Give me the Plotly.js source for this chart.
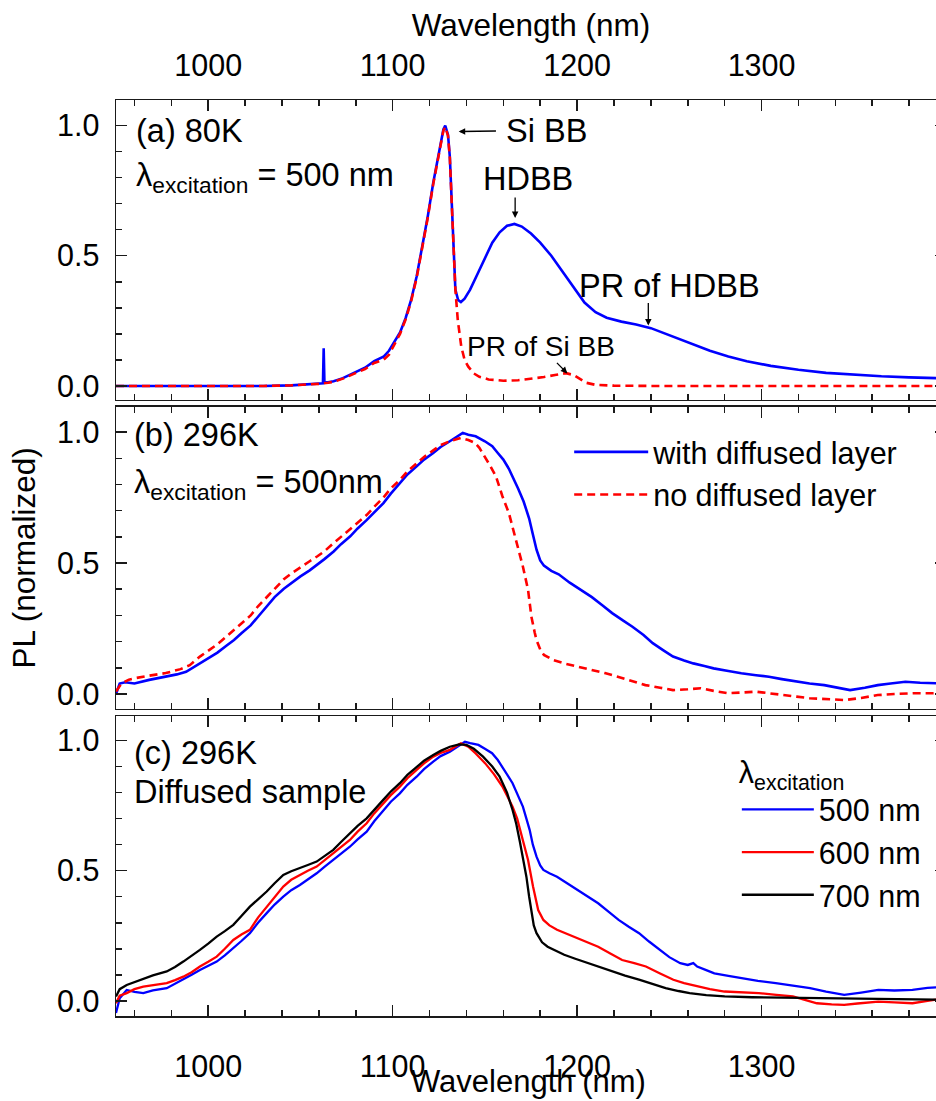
<!DOCTYPE html>
<html>
<head>
<meta charset="utf-8">
<script src="https://cdn.plot.ly/plotly-3.0.1.min.js"></script>
<style>
html, body { margin: 0; padding: 0; overflow: hidden; background: #fff; }
#chart { width: 950px; height: 1101px; }
</style>
</head>
<body>
<div id="chart"></div>
<script>
// ---------- tick labels ----------
const xTickVals = [1000, 1100, 1200, 1300];
const xTickText = ['1000', '1100', '1200', '1300'];
const yTickVals = [0, 0.5, 1.0];
const yTickText = ['0.0', '0.5', '1.0'];

// ---------- panel (a): 80 K, 500 nm excitation ----------
const a_with_x = [950, 970, 990, 1010, 1030, 1045, 1055, 1060, 1062.2, 1062.6, 1063.0, 1065, 1068, 1073, 1079, 1085, 1090, 1095, 1098, 1101, 1104, 1107, 1110, 1113, 1116, 1119, 1122, 1124, 1126, 1127.5, 1128.5, 1130, 1131, 1132, 1133, 1134, 1135.5, 1137, 1139, 1142, 1146, 1150, 1154, 1158, 1162, 1166, 1170, 1175, 1180, 1186, 1192, 1198, 1204, 1210, 1216, 1224, 1232, 1240, 1248, 1256, 1264, 1272, 1282, 1292, 1305, 1320, 1335, 1350, 1365, 1380, 1400];
const a_with_y = [0.0, 0.0, -0.002, 0.0, 0.0, 0.002, 0.005, 0.008, 0.01, 0.145, 0.015, 0.014, 0.018, 0.03, 0.05, 0.07, 0.095, 0.112, 0.135, 0.17, 0.205, 0.26, 0.33, 0.42, 0.53, 0.65, 0.78, 0.86, 0.94, 0.985, 1.0, 0.965, 0.88, 0.72, 0.5, 0.37, 0.33, 0.322, 0.335, 0.37, 0.43, 0.49, 0.55, 0.59, 0.615, 0.622, 0.612, 0.585, 0.55, 0.5, 0.44, 0.38, 0.32, 0.283, 0.262, 0.247, 0.236, 0.222, 0.2, 0.178, 0.156, 0.135, 0.113, 0.095, 0.077, 0.062, 0.05, 0.043, 0.037, 0.033, 0.029];

const a_no_x = [950, 970, 990, 1010, 1030, 1045, 1055, 1060, 1065, 1068, 1073, 1079, 1085, 1090, 1095, 1098, 1101, 1104, 1107, 1110, 1113, 1116, 1119, 1122, 1124, 1126, 1127.5, 1128.5, 1130, 1131, 1132, 1133, 1134, 1135.3, 1137.2, 1139, 1141, 1144, 1147, 1152, 1160, 1168, 1175, 1182, 1188, 1194, 1198, 1201, 1205, 1210, 1220, 1240, 1270, 1300, 1340, 1370, 1400];
const a_no_y = [0.0, 0.0, -0.002, 0.0, 0.0, 0.002, 0.005, 0.008, 0.012, 0.016, 0.028, 0.047, 0.065, 0.088, 0.1, 0.12, 0.16, 0.2, 0.255, 0.325, 0.415, 0.525, 0.645, 0.775, 0.855, 0.935, 0.98, 0.995, 0.96, 0.875, 0.715, 0.5, 0.37, 0.253, 0.151, 0.1, 0.074, 0.048, 0.035, 0.025, 0.02, 0.022, 0.027, 0.034, 0.042, 0.049, 0.042, 0.028, 0.012, 0.004, 0.001, 0.0, 0.0, -0.001, 0.0, -0.001, 0.0];

// ---------- panel (b): 296 K, 500 nm excitation ----------
const b_with_x = [950, 952, 955, 960, 968, 977, 983, 988, 995, 1000, 1005, 1010, 1014, 1018, 1023, 1027, 1032, 1036, 1041, 1045, 1050, 1055, 1059, 1063, 1068, 1072, 1077, 1081, 1086, 1090, 1095, 1099, 1104, 1108, 1113, 1117, 1122, 1126, 1131, 1135, 1138, 1141, 1145, 1150, 1154, 1157, 1160, 1163, 1165, 1168, 1171, 1174, 1176, 1178, 1180, 1182, 1186, 1190, 1196, 1202, 1208, 1214, 1219, 1225, 1230, 1236, 1241, 1247, 1252, 1258, 1263, 1269, 1274, 1282, 1289, 1297, 1304, 1311, 1319, 1326, 1334, 1341, 1348, 1356, 1363, 1370, 1378, 1386, 1393, 1400];
const b_with_y = [0.0, 0.04, 0.045, 0.04, 0.054, 0.066, 0.075, 0.085, 0.115, 0.135, 0.158, 0.185, 0.206, 0.232, 0.262, 0.295, 0.338, 0.37, 0.402, 0.424, 0.449, 0.472, 0.493, 0.515, 0.544, 0.572, 0.602, 0.632, 0.665, 0.695, 0.729, 0.765, 0.806, 0.838, 0.869, 0.895, 0.92, 0.943, 0.965, 0.985, 0.997, 0.99, 0.984, 0.965, 0.946, 0.92, 0.895, 0.86, 0.831, 0.785, 0.735, 0.67, 0.61, 0.551, 0.51, 0.49, 0.47, 0.457, 0.425, 0.397, 0.37, 0.337, 0.309, 0.28, 0.257, 0.225, 0.194, 0.166, 0.143, 0.128, 0.117, 0.107, 0.098, 0.088, 0.079, 0.072, 0.066, 0.057, 0.047, 0.04, 0.034, 0.025, 0.015, 0.024, 0.034, 0.04, 0.047, 0.043, 0.041, 0.04];

const b_no_x = [950, 953, 957, 960, 968, 977, 985, 990, 995.5, 1000, 1005, 1010, 1014, 1018, 1023, 1027, 1032, 1036, 1041, 1045, 1050, 1055, 1059, 1063, 1068, 1072, 1077, 1081, 1086, 1090, 1095, 1099, 1104, 1108, 1113, 1117, 1122, 1126, 1131, 1137, 1141, 1144.6, 1147, 1150, 1153, 1156, 1159.5, 1163, 1167, 1170.6, 1173.4, 1175.2, 1177, 1178, 1180, 1182, 1187, 1193, 1200, 1208, 1215, 1222, 1230, 1237, 1245, 1252, 1260, 1267, 1274, 1282, 1290, 1297, 1304, 1311, 1319, 1326, 1335, 1345, 1354, 1363, 1372, 1382, 1393, 1400];
const b_no_y = [0.01, 0.04, 0.055, 0.06, 0.07, 0.08, 0.095, 0.11, 0.143, 0.165, 0.19, 0.22, 0.245, 0.27, 0.3, 0.335, 0.372, 0.405, 0.438, 0.46, 0.485, 0.507, 0.525, 0.545, 0.576, 0.6, 0.63, 0.655, 0.684, 0.715, 0.75, 0.785, 0.818, 0.85, 0.88, 0.905, 0.93, 0.95, 0.965, 0.978, 0.97, 0.959, 0.94, 0.907, 0.87, 0.831, 0.755, 0.691, 0.589, 0.487, 0.398, 0.296, 0.235, 0.206, 0.17, 0.149, 0.13, 0.117, 0.105, 0.092, 0.08, 0.066, 0.05, 0.034, 0.024, 0.015, 0.018, 0.022, 0.012, 0.003, 0.006, 0.009, 0.003, -0.004, -0.01, -0.016, -0.02, -0.023, -0.015, -0.004, 0.0, 0.003, 0.003, 0.005];

// ---------- panel (c): 296 K, diffused sample, three excitations ----------
const c_500_x = [950, 952, 955.8, 960, 964.8, 970, 977.5, 982, 986.5, 991, 995.5, 1000, 1004.6, 1009, 1013.6, 1018, 1022.6, 1027, 1031.7, 1036, 1040.7, 1045, 1049.7, 1054, 1058.8, 1063, 1067.8, 1072, 1076.8, 1081, 1085.9, 1090, 1094.9, 1099, 1103.9, 1108, 1113, 1117, 1122, 1126, 1131, 1135, 1139.2, 1142, 1146.5, 1150, 1153.9, 1157, 1159.5, 1162, 1165, 1168, 1170.6, 1172.5, 1174.3, 1176, 1178, 1180, 1181.7, 1185, 1189.1, 1195, 1200.3, 1206, 1211.4, 1217, 1222.5, 1228, 1233.6, 1239, 1244.7, 1250, 1255.9, 1260, 1263, 1265.1, 1270, 1274.4, 1282, 1289.2, 1298, 1307.7, 1317, 1326.3, 1335, 1344.8, 1354, 1363.3, 1372, 1381.8, 1390, 1400];
const c_500_y = [-0.046, 0.01, 0.042, 0.035, 0.03, 0.04, 0.049, 0.065, 0.081, 0.1, 0.119, 0.135, 0.151, 0.175, 0.202, 0.23, 0.26, 0.3, 0.337, 0.37, 0.4, 0.425, 0.445, 0.467, 0.49, 0.515, 0.541, 0.565, 0.592, 0.62, 0.65, 0.69, 0.733, 0.765, 0.797, 0.83, 0.861, 0.89, 0.919, 0.94, 0.957, 0.975, 0.995, 0.99, 0.983, 0.968, 0.951, 0.925, 0.899, 0.87, 0.836, 0.79, 0.746, 0.7, 0.656, 0.6, 0.554, 0.52, 0.503, 0.49, 0.477, 0.45, 0.426, 0.4, 0.375, 0.343, 0.311, 0.285, 0.26, 0.228, 0.196, 0.168, 0.145, 0.138, 0.145, 0.132, 0.118, 0.106, 0.096, 0.087, 0.077, 0.068, 0.058, 0.049, 0.036, 0.023, 0.032, 0.042, 0.04, 0.042, 0.05, 0.055];

const c_600_x = [950, 952, 955.8, 960, 964.8, 970, 977.5, 982, 986.5, 991, 995.5, 1000, 1004.6, 1009, 1013.6, 1018, 1022.6, 1027, 1031.7, 1036, 1040.7, 1045, 1049.7, 1054, 1058.8, 1063, 1067.8, 1072, 1076.8, 1081, 1085.9, 1090, 1094.9, 1099, 1103.9, 1108, 1113, 1117, 1122, 1126, 1131, 1137, 1141, 1145, 1150.2, 1155, 1159.5, 1162, 1165, 1167.5, 1169.7, 1171.5, 1173.4, 1176.1, 1178.9, 1181.7, 1185, 1189.1, 1195, 1200.3, 1206, 1211.4, 1218, 1224.4, 1231, 1237.3, 1245, 1252.2, 1258, 1265.1, 1272, 1279.9, 1290, 1298.5, 1308, 1317, 1323, 1330, 1338, 1344.8, 1352, 1363.3, 1372, 1381.8, 1390, 1400];
const c_600_y = [-0.009, 0.02, 0.03, 0.045, 0.055, 0.06, 0.068, 0.08, 0.093, 0.11, 0.132, 0.15, 0.17, 0.2, 0.234, 0.255, 0.273, 0.32, 0.362, 0.4, 0.439, 0.465, 0.484, 0.5, 0.516, 0.54, 0.567, 0.593, 0.618, 0.65, 0.682, 0.72, 0.759, 0.79, 0.823, 0.855, 0.887, 0.912, 0.938, 0.952, 0.964, 0.989, 0.976, 0.95, 0.912, 0.87, 0.823, 0.79, 0.746, 0.7, 0.644, 0.59, 0.541, 0.439, 0.349, 0.311, 0.29, 0.273, 0.256, 0.241, 0.225, 0.208, 0.182, 0.157, 0.145, 0.132, 0.105, 0.081, 0.068, 0.055, 0.045, 0.036, 0.032, 0.03, 0.023, 0.017, 0.005, -0.009, -0.013, -0.015, -0.01, -0.003, -0.006, -0.009, 0.0, 0.01];

const c_700_x = [950, 952, 955.8, 960, 964.8, 970, 977.5, 982, 986.5, 991, 995.5, 1000, 1004.6, 1009, 1013.6, 1018, 1022.6, 1027, 1031.7, 1036, 1040.7, 1045, 1049.7, 1054, 1058.8, 1063, 1067.8, 1072, 1076.8, 1081, 1085.9, 1090, 1094.9, 1099, 1103.9, 1108, 1113, 1117, 1122, 1126, 1131, 1136, 1140, 1144, 1149, 1154, 1158, 1162, 1165, 1167, 1169, 1171, 1172.5, 1174, 1175.2, 1176.5, 1178, 1181, 1184, 1188, 1193, 1199, 1206, 1212, 1219, 1226, 1234, 1241, 1248, 1255, 1261, 1270, 1280, 1295, 1308, 1325, 1345, 1370, 1400];
const c_700_y = [0.017, 0.045, 0.061, 0.072, 0.087, 0.098, 0.113, 0.13, 0.151, 0.172, 0.196, 0.22, 0.247, 0.268, 0.292, 0.326, 0.362, 0.39, 0.42, 0.452, 0.484, 0.498, 0.509, 0.522, 0.535, 0.555, 0.58, 0.61, 0.644, 0.672, 0.701, 0.735, 0.772, 0.804, 0.836, 0.868, 0.899, 0.922, 0.944, 0.96, 0.976, 0.985, 0.983, 0.968, 0.938, 0.9, 0.861, 0.8, 0.733, 0.68, 0.61, 0.53, 0.477, 0.4, 0.337, 0.29, 0.26, 0.225, 0.208, 0.193, 0.177, 0.162, 0.145, 0.13, 0.113, 0.097, 0.081, 0.065, 0.049, 0.038, 0.03, 0.022, 0.017, 0.014, 0.013, 0.01, 0.008, 0.006, 0.004];

// ---------- styling ----------
const FONT = 'Arial, "Liberation Sans", sans-serif';
const FS_TICK = 30.5;
const FS_TXT = 32.5;
const FS_TITLE = 31.5;
const FS_LEG = 30.5;
const AX = '#1a1a1a';
const BLUE = '#0000ff', RED = '#ff0000', BLACK = '#000000';

function xAxis(anchor, extra) {
  return Object.assign({
    anchor: anchor, range: [950, 1400], showline: true, linecolor: AX, linewidth: 1.5,
    mirror: 'allticks', ticks: 'inside', ticklen: 11, tickwidth: 1.5, tickcolor: AX,
    tickmode: 'array', tickvals: xTickVals, ticktext: xTickText,
    minor: {tickmode: 'linear', tick0: 0, dtick: 20, ticks: 'inside', ticklen: 6, tickwidth: 1.5, tickcolor: AX},
    showgrid: false, zeroline: false, showticklabels: false, fixedrange: true,
    tickfont: {family: FONT, size: FS_TICK, color: '#000'}
  }, extra || {});
}
function yAxis(anchor, domain, range, extra) {
  return Object.assign({
    anchor: anchor, domain: domain, range: range, showline: true, linecolor: AX, linewidth: 1.5,
    mirror: 'allticks', ticks: 'inside', ticklen: 11, tickwidth: 1.5, tickcolor: AX,
    tickmode: 'array', tickvals: yTickVals, ticktext: yTickText,
    minor: {tickmode: 'linear', tick0: 0, dtick: 0.1, ticks: 'inside', ticklen: 6, tickwidth: 1.5, tickcolor: AX},
    showgrid: false, zeroline: false, fixedrange: true, ticklabelstandoff: 9,
    tickfont: {family: FONT, size: FS_TICK, color: '#000'}
  }, extra || {});
}

const traces = [
  {x: a_with_x, y: a_with_y, xaxis: 'x3', yaxis: 'y3', mode: 'lines', showlegend: false,
   line: {color: BLUE, width: 2.6}},
  {x: a_no_x, y: a_no_y, xaxis: 'x3', yaxis: 'y3', mode: 'lines', showlegend: false,
   line: {color: RED, width: 2.6, dash: '8px,5px'}},
  {x: b_with_x, y: b_with_y, xaxis: 'x2', yaxis: 'y2', mode: 'lines', name: 'with diffused layer',
   legend: 'legend', line: {color: BLUE, width: 2.6}},
  {x: b_no_x, y: b_no_y, xaxis: 'x2', yaxis: 'y2', mode: 'lines', name: 'no diffused layer',
   legend: 'legend', line: {color: RED, width: 2.6, dash: '8px,5px'}},
  {x: c_500_x, y: c_500_y, xaxis: 'x', yaxis: 'y', mode: 'lines', name: '500 nm',
   legend: 'legend2', line: {color: BLUE, width: 2.3}},
  {x: c_600_x, y: c_600_y, xaxis: 'x', yaxis: 'y', mode: 'lines', name: '600 nm',
   legend: 'legend2', line: {color: RED, width: 2.3}},
  {x: c_700_x, y: c_700_y, xaxis: 'x', yaxis: 'y', mode: 'lines', name: '700 nm',
   legend: 'legend2', line: {color: BLACK, width: 2.3}}
];

function txt(xref, yref, x, y, text, size, extra) {
  return Object.assign({xref: xref, yref: yref, x: x, y: y, text: text, showarrow: false,
    xanchor: 'left', yanchor: 'middle', font: {family: FONT, size: size || FS_TXT, color: '#000'}}, extra || {});
}
// arrow whose tail is attached to its label
function labelArrow(xref, yref, headX, headY, tailX, tailY, text, size, xanchor, yanchor) {
  return {xref: xref, yref: yref, axref: xref, ayref: yref, x: headX, y: headY, ax: tailX, ay: tailY,
    text: text, showarrow: true, arrowhead: 2, arrowsize: 1, arrowwidth: 1.3, arrowcolor: '#000',
    xanchor: xanchor, yanchor: yanchor, borderpad: 0,
    font: {family: FONT, size: size || FS_TXT, color: '#000'}};
}
// bare arrow
function arrow(xref, yref, x0, y0, x1, y1) {
  return {xref: xref, yref: yref, axref: xref, ayref: yref, x: x1, y: y1, ax: x0, ay: y0,
    text: '', showarrow: true, arrowhead: 2, arrowsize: 1, arrowwidth: 1.3, arrowcolor: '#000'};
}

const annotations = [
  // panel (a)
  txt('x3', 'y3', 960, 0.979, '(a) 80K'),
  txt('x3', 'y3', 960, 0.80, 'λ<sub>excitation</sub> = 500 nm'),
  labelArrow('x3', 'y3', 1135.8, 0.977, 1156.0, 0.979, ' Si BB', FS_TXT, 'left', 'middle'),
  txt('x3', 'y3', 1173.3, 0.795, 'HDBB', FS_TXT, {xanchor: 'center'}),
  arrow('x3', 'y3', 1166.4, 0.729, 1166.4, 0.645),
  txt('x3', 'y3', 1250.3, 0.384, 'PR of HDBB', FS_TXT, {xanchor: 'center'}),
  arrow('x3', 'y3', 1238.6, 0.324, 1238.6, 0.232),
  labelArrow('x3', 'y3', 1194.7, 0.048, 1180.5, 0.15, 'PR of Si BB', 28, 'center', 'middle'),
  // panel (b)
  txt('x2', 'y2', 958.7, 0.99, '(b) 296K'),
  txt('x2', 'y2', 958.7, 0.80, 'λ<sub>excitation</sub> = 500nm'),
  // panel (c)
  txt('x', 'y', 958.7, 0.952, '(c) 296K'),
  txt('x', 'y', 958.7, 0.802, 'Diffused sample'),
  // bottom axis title
  txt('paper', 'paper', 0.4964, -0.0715, 'Wavelength (nm)', 31, {xanchor: 'center'})
];

const layout = {
  width: 950, height: 1101,
  margin: {l: 116, r: 4, t: 100, b: 85},
  paper_bgcolor: '#fff', plot_bgcolor: '#fff',
  font: {family: FONT, size: FS_TICK, color: '#000'},
  xaxis: xAxis('y', {showticklabels: true, ticklabelstandoff: 23}),
  xaxis2: xAxis('y2', {matches: 'x'}),
  xaxis3: xAxis('y3', {matches: 'x', side: 'top', showticklabels: true, ticklabelstandoff: 10,
    title: {text: 'Wavelength (nm)', font: {family: FONT, size: FS_TITLE, color: '#000'}, standoff: 2}}),
  yaxis: yAxis('x', [0, 0.3275], [-0.058, 1.094]),
  yaxis2: yAxis('x2', [0.3352, 0.6652], [-0.057, 1.097],
    {title: {text: 'PL (normalized)', font: {family: FONT, size: FS_TITLE, color: '#000'}, standoff: 12}}),
  yaxis3: yAxis('x3', [0.6725, 1.0], [-0.054, 1.098]),
  legend: {x: 0.546, xanchor: 'left', y: 0.6446, yanchor: 'top', bgcolor: 'rgba(0,0,0,0)',
    font: {family: FONT, size: FS_LEG, color: '#000'}, itemwidth: 74, tracegroupgap: 0},
  legend2: {x: 0.748, xanchor: 'left', y: 0.2975, yanchor: 'top', bgcolor: 'rgba(0,0,0,0)',
    font: {family: FONT, size: FS_LEG, color: '#000'}, itemwidth: 72, tracegroupgap: 0,
    title: {text: 'λ<sub>excitation</sub>', font: {family: FONT, size: FS_LEG, color: '#000'}}},
  annotations: annotations,
  showlegend: true
};

Plotly.newPlot('chart', traces, layout, {displayModeBar: false, staticPlot: true});
</script>
</body>
</html>
